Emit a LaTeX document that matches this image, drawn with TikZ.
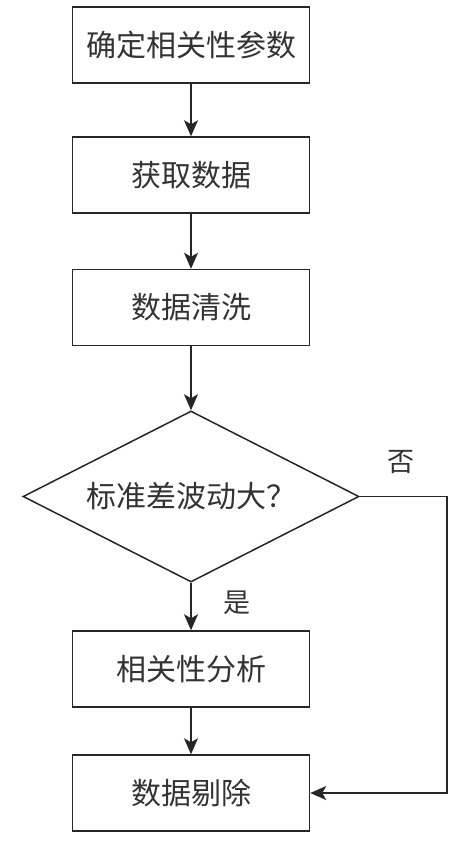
\documentclass[tikz,border=0pt]{standalone}
\usepackage{fontspec}
\newfontfamily\cjk{Noto Sans CJK SC}
\usetikzlibrary{shapes.geometric,arrows.meta}
\begin{document}
\begin{tikzpicture}[x=1pt,y=-1pt,
  line width=1.5pt,
  every node/.style={font=\cjk\fontsize{30}{32}\selectfont, color=black!80},
  stepbox/.style={draw=black!85, minimum width=237pt, minimum height=76pt, inner sep=0pt},
  decision/.style={draw=black!85, diamond, minimum width=336pt, minimum height=171pt, aspect=1.96, inner sep=0pt},
  lab/.style={font=\cjk\fontsize{27}{29}\selectfont},
  arr/.style={draw=black!85, -{Stealth[length=16pt,width=14pt,inset=4pt]}}]
\useasboundingbox (0,0) rectangle (465,845);
\node[stepbox] (b1) at (191,45) {确定相关性参数};
\node[stepbox] (b2) at (191,175) {获取数据};
\node[stepbox] (b3) at (191,307.5) {数据清洗};
\node[decision] (d) at (191,496.5) {标准差波动大？};
\node[stepbox] (b5) at (191,669) {相关性分析};
\node[stepbox] (b6) at (191,793) {数据剔除};
\coordinate (c1) at (447,496.5);
\coordinate (c2) at (447,793);
\draw[arr] (b1) -- (b2);
\draw[arr] (b2) -- (b3);
\draw[arr] (b3) -- (d);
\draw[arr] (d) -- (b5);
\draw[arr] (b5) -- (b6);
\draw[arr] (d.east) -- (c1) -- (c2) -- (b6.east);
\node[lab] (no) at (401,462) {否};
\node[lab] (yes) at (237,603) {是};
\end{tikzpicture}
\end{document}
